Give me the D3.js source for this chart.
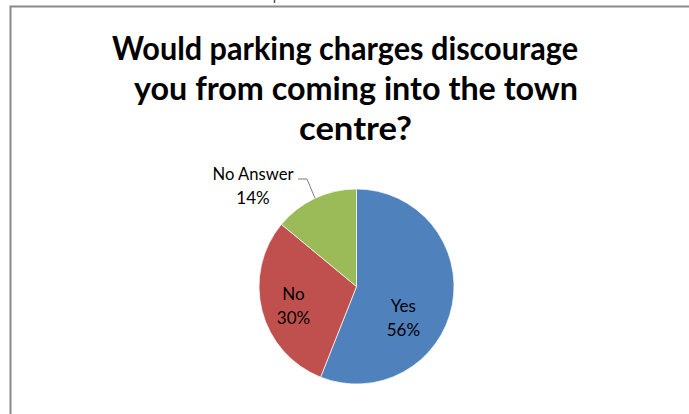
<!DOCTYPE html>
<html>
    <head>
        <meta charset="utf-8" />
        <title>Parking charges pie</title>
        <script src="https://d3js.org/d3.v7.min.js"></script>
        <style>
            body { margin: 0; background: white; }
            svg { display: block; font-family: Lato, "Open Sans", sans-serif; }
        </style>
    </head>
    <body>
        <svg width="689" height="414" id="chart"></svg>

        <script>

            // chart data
            var categories = ["Yes", "No", "No Answer"];
            var values = [56, 30, 14];
            var colours = ["#4F81BD", "#C0504D", "#9BBB59"];
            var titleLines = ["Would parking charges discourage", "you from coming into the town", "centre?"];

            var svg = d3.select("#chart");

            // chart area border (only left and top edges are inside the picture)
            svg.append("rect")
                .attr("x", 10.5).attr("y", 6.5)
                .attr("width", 800).attr("height", 500)
                .attr("fill", "white")
                .attr("stroke", "#8a8a8a")
                .attr("stroke-width", 2);

            // little stray mark above the border
            svg.append("line")
                .attr("x1", 274.5).attr("x2", 274.5)
                .attr("y1", 0).attr("y2", 3)
                .attr("stroke", "#555").attr("stroke-width", 1.5);

            // title - Lato is wider than Calibri, so squeeze each line to its width
            var titleCentres = [345, 356, 355.5];
            var titleWidths = [466, 444, 113];
            var title = svg.append("g").attr("font-weight", "bold").attr("fill", "black");
            title.selectAll("text")
                .data(titleLines)
                .enter().append("text")
                .attr("x", function(d, i) { return titleCentres[i]; })
                .attr("y", function(d, i) { return 60 + i * 40; })
                .attr("text-anchor", "middle")
                .attr("font-size", "33px")
                .attr("textLength", function(d, i) { return titleWidths[i]; })
                .attr("lengthAdjust", "spacingAndGlyphs")
                .text(function(d) { return d; });

            // pie
            var cx = 356.5, cy = 286.5, r = 97.5;
            var data = categories.map(function(c, i) {
                return { name: c, value: values[i], colour: colours[i] };
            });

            var pie = d3.pie().sort(null).value(function(d) { return d.value; });
            var arc = d3.arc().innerRadius(0).outerRadius(r);
            var arcs = pie(data);

            var g = svg.append("g").attr("transform", "translate(" + cx + "," + cy + ")");

            g.selectAll("path")
                .data(arcs)
                .enter().append("path")
                .attr("d", arc)
                .attr("fill", function(d) { return d.data.colour; })
                .attr("stroke", "white")
                .attr("stroke-width", 0.7);

            // inside labels
            var labelArc = d3.arc().innerRadius(65).outerRadius(65);
            var nudge = { "Yes": [-17, 19], "No": [0, 3] };

            var inside = arcs.filter(function(d) { return d.data.name != "No Answer"; });
            var labels = g.selectAll("text.inside")
                .data(inside)
                .enter().append("text")
                .attr("class", "inside")
                .attr("text-anchor", "middle")
                .attr("font-size", "17px")
                .attr("fill", "black")
                .attr("transform", function(d) {
                    var c = labelArc.centroid(d);
                    var n = nudge[d.data.name];
                    return "translate(" + (c[0] + n[0]) + "," + (c[1] + n[1]) + ")";
                });
            labels.append("tspan").attr("x", 0).attr("y", -6).text(function(d) { return d.data.name; });
            labels.append("tspan").attr("x", 0).attr("y", 18).text(function(d) { return d.data.value + "%"; });

            // outside label with leader line
            var na = arcs[2];
            var mid = (na.startAngle + na.endAngle) / 2;
            var edge = [Math.sin(mid) * r, -Math.cos(mid) * r];
            var elbow = [edge[0] - 8, -107.5];
            var end = [elbow[0] - 9, elbow[1]];

            g.append("path")
                .attr("d", d3.line()([edge, elbow, end]))
                .attr("fill", "none")
                .attr("stroke", "#7f7f7f")
                .attr("stroke-width", 1);

            var outside = g.append("text")
                .attr("text-anchor", "middle")
                .attr("font-size", "17px")
                .attr("fill", "black")
                .attr("transform", "translate(" + (end[0] - 45) + "," + end[1] + ")");
            outside.append("tspan").attr("x", 0).attr("y", 1).attr("textLength", 81).attr("lengthAdjust", "spacingAndGlyphs").text(na.data.name);
            outside.append("tspan").attr("x", 0).attr("y", 25).text(na.data.value + "%");

        </script>
    </body>
</html>
